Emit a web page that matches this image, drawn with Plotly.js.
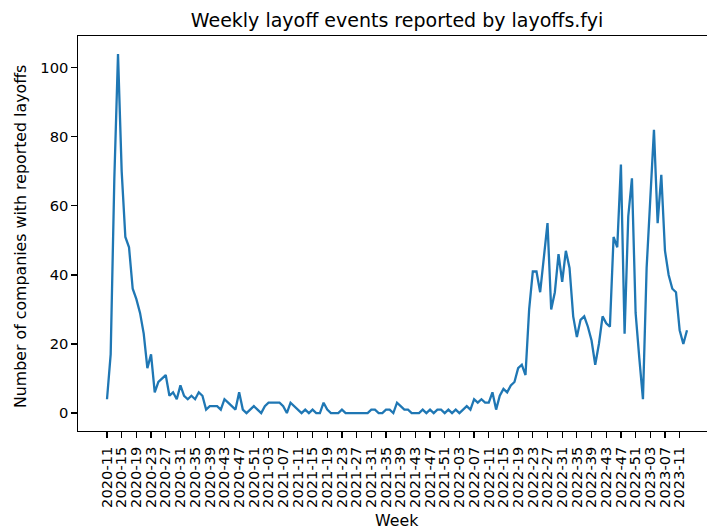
<!DOCTYPE html>
<html>
<head>
<meta charset="utf-8">
<script src="https://cdn.plot.ly/plotly-3.0.1.min.js"></script>
<style>
html, body { margin: 0; padding: 0; overflow: hidden; background: #fff; }
#chart { width: 720px; height: 529px; }
</style>
</head>
<body>
<div id="chart"></div>
<script>
// Week categories (year-week labels), 2020-11 .. 2023-13
const yearSpans = [[2020, 11, 52], [2021, 1, 52], [2022, 1, 52], [2023, 1, 13]];
const weeks = [];
for (const [yr, w0, w1] of yearSpans) {
  for (let w = w0; w <= w1; w++) weeks.push(yr + '-' + String(w).padStart(2, '0'));
}

// Number of companies with reported layoffs per week
const counts = [
  4, 17, 68, 104, 70, 51, 48, 36, 33, 29,
  23, 13, 17, 6, 9, 10, 11, 5, 6, 4,
  8, 5, 4, 5, 4, 6, 5, 1, 2, 2,
  2, 1, 4, 3, 2, 1, 6, 1, 0, 1,
  2, 1, 0, 2, 3, 3, 3, 3, 2, 0,
  3, 2, 1, 0, 1, 0, 1, 0, 0, 3,
  1, 0, 0, 0, 1, 0, 0, 0, 0, 0,
  0, 0, 1, 1, 0, 0, 1, 1, 0, 3,
  2, 1, 1, 0, 0, 0, 1, 0, 1, 0,
  1, 1, 0, 1, 0, 1, 0, 1, 2, 1,
  4, 3, 4, 3, 3, 6, 1, 5, 7, 6,
  8, 9, 13, 14, 11, 30, 41, 41, 35, 45,
  55, 30, 35, 46, 38, 47, 42, 28, 22, 27,
  28, 25, 21, 14, 20, 28, 26, 25, 51, 48,
  72, 23, 57, 68, 29, 16, 4, 42, 64, 82,
  55, 69, 47, 40, 36, 35, 24, 20, 24
];

// Every 4th week is labelled on the x axis
const tickWeeks = weeks.filter((_, i) => i % 4 === 0);
const yTicks = [0, 20, 40, 60, 80, 100];

const titleText = 'Weekly layoff events reported by layoffs.fyi';
const xTitle = 'Week';
const yTitle = 'Number of companies with reported layoffs';

const font = 'DejaVu Sans, sans-serif';
const fs = 15.8;     // axis titles
const tfs = 14.7;    // tick labels
const n = weeks.length;
const ymax = Math.max(...counts), ymin = Math.min(...counts);
const ypad = (ymax - ymin) * 0.05;
const xpad = (n - 1) * 0.05;

const trace = {
  x: weeks,
  y: counts,
  type: 'scatter',
  mode: 'lines',
  line: { color: '#1f77b4', width: 2.3 },
  hoverinfo: 'x+y'
};

const layout = {
  width: 720,
  height: 529,
  margin: { l: 78, r: 4, t: 35.5, b: 97.5 },
  paper_bgcolor: '#ffffff',
  plot_bgcolor: '#ffffff',
  showlegend: false,
  font: { family: font, size: fs, color: '#000' },
  title: {
    text: titleText,
    font: { family: font, size: 19, color: '#000' },
    x: 0.5, xref: 'paper', xanchor: 'center',
    y: 1 - 20.5 / 529, yref: 'container', yanchor: 'middle'
  },
  xaxis: {
    type: 'category',
    range: [-xpad, n - 1 + xpad],
    tickmode: 'array',
    tickvals: tickWeeks,
    ticktext: tickWeeks,
    tickangle: -90,
    ticks: 'outside', ticklen: 5.5, tickwidth: 1.2, tickcolor: '#000',
    ticklabelstandoff: 3,
    tickfont: { family: font, size: tfs, color: '#000' },
    showline: true, linecolor: '#000', linewidth: 1.2, mirror: true,
    showgrid: false, zeroline: false, automargin: false
  },
  yaxis: {
    range: [ymin - ypad, ymax + ypad],
    tickmode: 'array',
    tickvals: yTicks,
    ticktext: yTicks.map(String),
    ticks: 'outside', ticklen: 5.5, tickwidth: 1.2, tickcolor: '#000',
    ticklabelstandoff: 0,
    tickfont: { family: font, size: tfs, color: '#000' },
    showline: true, linecolor: '#000', linewidth: 1.2, mirror: true,
    showgrid: false, zeroline: false, automargin: false
  },
  annotations: [
    {
      text: xTitle, showarrow: false,
      xref: 'paper', x: 0.5, xanchor: 'center',
      yref: 'paper', y: -(521 - 431.5) / 396, yanchor: 'middle',
      font: { family: font, size: fs, color: '#000' }
    },
    {
      text: yTitle, showarrow: false, textangle: -90,
      xref: 'paper', x: -(78 - 21) / 638, xanchor: 'center',
      yref: 'paper', y: 0.5 - (237 - 233.5) / 396, yanchor: 'middle',
      font: { family: font, size: fs, color: '#000' }
    }
  ]
};

Plotly.newPlot('chart', [trace], layout, { displayModeBar: false, staticPlot: true });
</script>
</body>
</html>
